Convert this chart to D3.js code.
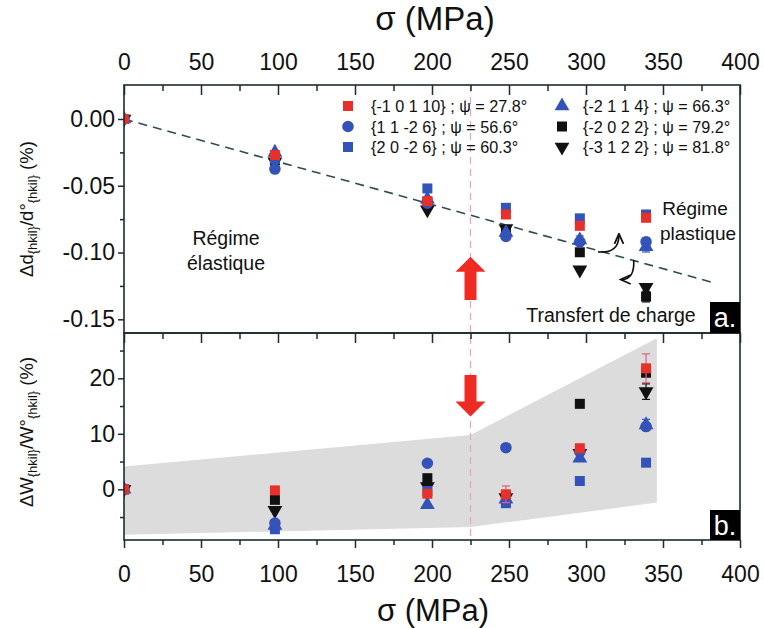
<!DOCTYPE html>
<html><head><meta charset="utf-8">
<script src="https://cdn.jsdelivr.net/npm/d3@7"></script>
<style>
body{margin:0;background:#fff}
svg{display:block}
text{font-family:"Liberation Sans",Arial,sans-serif;fill:#111}
</style>
</head><body>
<svg id="c" width="764" height="628"></svg>
<script>
// ---------- data ----------
const sigma = [0, 98, 197, 248, 296, 339];
const xTicks = [0, 50, 100, 150, 200, 250, 300, 350, 400];
const topTicks = [0, -0.05, -0.10, -0.15];
const botTicks = [0, 10, 20];

const seriesLabels = ["{-1 0 1 10} ; \u03C8 = 27.8\u00B0", "{1 1 -2 6} ; \u03C8 = 56.6\u00B0", "{2 0 -2 6} ; \u03C8 = 60.3\u00B0",
                      "{-2 1 1 4} ; \u03C8 = 66.3\u00B0", "{-2 0 2 2} ; \u03C8 = 79.2\u00B0", "{-3 1 2 2} ; \u03C8 = 81.8\u00B0"];

// Δd/d° (%)
const strainRed     = [0, -0.027, -0.0615, -0.0715, -0.0800, -0.0740];
const strainCircle  = [0, -0.0375, -0.063, -0.0880, -0.0920, -0.0920];
const strainBlueSq  = [0, -0.030, -0.0520, -0.0665, -0.0744, -0.0715];
const strainBlueTri = [0, -0.025, -0.060, -0.0850, -0.0906, -0.0956];
const strainBlackSq = [0, -0.031, -0.062, -0.0840, -0.0998, -0.1330];
const strainBlackTri= [0, -0.032, -0.068, -0.0820, -0.1130, -0.1260];
const strainErr = { blackSq: [0,0,0,0,0,0.004], blueTri: [0,0,0,0,0.003,0.004], circle: [0,0,0,0,0,0.003] };

// ΔW/W° (%)
const widthRed     = [0, -0.2, -0.8, -0.9, 7.4, 21.8];
const widthCircle  = [0, -6.1, 4.7, 7.5, 6.8, 11.3];
const widthBlueSq  = [0, -7.2, -0.3, -2.5, 1.5, 4.8];
const widthBlueTri = [0, -6.5, -2.8, -1.8, 5.6, 11.6];
const widthBlackSq = [0, -1.9, 2.0, -1.2, 15.4, 21.0];
const widthBlackTri= [0, -3.8, 0.5, -1.5, 6.5, 17.6];
const widthErr = { red: [0,0,0,1.5,0,2.6], blackTri: [0,0,0,0,0,1.4], blueTri: [0,0,0,0,0,1.0] };

// elastic fit line
const fitSigma = [0, 381];
const fitStrain = [0, -0.122];
// plastic threshold
const threshold = 225;
// grey band (bottom)
const bandSigma = [0, 225, 346];
const bandUpper = [4.1, 9.8, 27.2];
const bandLower = [-8.2, -6.8, -2.4];

// ---------- setup ----------
const RED = "#e8302a", BLUE = "#3453b8", BLACK = "#111111";
const svg = d3.select("#c");
const X0 = 124, X1 = 740;
const T0 = 85, T1 = 333, B0 = 333, B1 = 540;

const x = d3.scaleLinear().domain([0, 400]).range([X0, X1]);
const yT = d3.scaleLinear().domain([-0.15, 0]).range([319.3, 119]);
const yB = d3.scaleLinear().domain([0, 20]).range([489.3, 378.3]);

const styles = [
  {key:"red", color:RED, sym:"square"},
  {key:"circle", color:BLUE, sym:"circle"},
  {key:"blueSq", color:BLUE, sym:"square"},
  {key:"blueTri", color:BLUE, sym:"tri"},
  {key:"blackSq", color:BLACK, sym:"square"},
  {key:"blackTri", color:BLACK, sym:"down"}
];
const topVals = {red:strainRed, circle:strainCircle, blueSq:strainBlueSq, blueTri:strainBlueTri, blackSq:strainBlackSq, blackTri:strainBlackTri};
const botVals = {red:widthRed, circle:widthCircle, blueSq:widthBlueSq, blueTri:widthBlueTri, blackSq:widthBlackSq, blackTri:widthBlackTri};

function symPath(s){
  if (s==="square") return d3.symbol(d3.symbolSquare, 100)();
  if (s==="circle") return d3.symbol(d3.symbolCircle, 105)();
  return d3.symbol(d3.symbolTriangle, 95)();
}
function marker(g, s, color, px, py){
  g.append("path").attr("d", symPath(s))
   .attr("transform", `translate(${px},${py})` + (s==="down" ? " rotate(180)" : ""))
   .attr("fill", color);
}

const defs = svg.append("defs");
defs.append("clipPath").attr("id","ct").append("rect").attr("x",X0).attr("y",T0).attr("width",X1-X0).attr("height",T1-T0);
defs.append("clipPath").attr("id","cb").append("rect").attr("x",X0).attr("y",B0).attr("width",X1-X0).attr("height",B1-B0);

// ---------- bottom band ----------
const bandData = bandSigma.map((s,i)=>({s, u:bandUpper[i], l:bandLower[i]}));
svg.append("path").datum(bandData)
  .attr("clip-path","url(#cb)")
  .attr("d", d3.area().x(d=>x(d.s)).y0(d=>yB(d.l)).y1(d=>yB(d.u)))
  .attr("fill","#dcdcdc");

// threshold line
svg.append("line").attr("x1",x(threshold)).attr("x2",x(threshold)).attr("y1",T0).attr("y2",B1)
  .attr("stroke","#e9a3bf").attr("stroke-width",1.2).attr("stroke-dasharray","7,5");

// fit line
svg.append("line").attr("x1",x(fitSigma[0])).attr("y1",yT(fitStrain[0])).attr("x2",x(fitSigma[1])).attr("y2",yT(fitStrain[1]))
  .attr("stroke","#2d4d55").attr("stroke-width",1.6).attr("stroke-dasharray","9,6");

// ---------- red arrows ----------
function blockArrow(cx, yTail, yTip, yHead){
  const hw = 15, sw = 6;
  return `M${cx-sw},${yTail} L${cx-sw},${yHead} L${cx-hw},${yHead} L${cx},${yTip} L${cx+hw},${yHead} L${cx+sw},${yHead} L${cx+sw},${yTail} Z`;
}
svg.append("path").attr("d", blockArrow(x(threshold), yT(-0.1355), yT(-0.1031), yT(-0.1143))).attr("fill", "#ee2b22");
svg.append("path").attr("d", blockArrow(x(threshold), yB(20.6), yB(13.1), yB(15.8))).attr("fill", "#ee2b22");

// ---------- markers ----------
const drawOrder = ["blackTri","blackSq","blueTri","circle","blueSq","red"];
function drawPanel(vals, errs, y, clip){
  const g = svg.append("g").attr("clip-path", `url(#${clip})`);
  drawOrder.forEach(k=>{
    const st = styles.find(s=>s.key===k);
    const e = errs[k];
    if (e) sigma.forEach((s,i)=>{
      if (e[i]>0){
        const col = k==="red" ? "#e0607a" : st.color;
        g.append("line").attr("x1",x(s)).attr("x2",x(s)).attr("y1",y(vals[k][i]-e[i])).attr("y2",y(vals[k][i]+e[i])).attr("stroke",col).attr("stroke-width",1.2);
        [-1,1].forEach(sg=>g.append("line").attr("x1",x(s)-4).attr("x2",x(s)+4).attr("y1",y(vals[k][i]+sg*e[i])).attr("y2",y(vals[k][i]+sg*e[i])).attr("stroke",col).attr("stroke-width",1.2));
      }
    });
    sigma.forEach((s,i)=> marker(g, st.sym, st.color, x(s), y(vals[k][i])));
  });
}
drawPanel(topVals, strainErr, yT, "ct");
drawPanel(botVals, widthErr, yB, "cb");

// ---------- curved arrows ----------
svg.append("defs").append("marker").attr("id","ah").attr("viewBox","0 0 10 10").attr("refX",8).attr("refY",5)
  .attr("markerWidth",7).attr("markerHeight",7).attr("orient","auto")
  .append("path").attr("d","M0,1 L9,5 L0,9").attr("fill","none").attr("stroke","#111").attr("stroke-width",1.6);
{
  const ax0 = x(307.8), ay0 = yT(-0.0995), ax1 = x(321.4), ay1 = yT(-0.0868);
  svg.append("path").attr("d", `M${ax0},${ay0} Q${ax1},${ay0+2} ${ax1},${ay1}`).attr("fill","none").attr("stroke","#111").attr("stroke-width",1.6).attr("marker-end","url(#ah)");
  const bx0 = x(331), by0 = yT(-0.1056), bx1 = x(323.2), by1 = yT(-0.1202);
  svg.append("path").attr("d", `M${bx0},${by0} Q${bx0+1},${by1} ${bx1},${by1}`).attr("fill","none").attr("stroke","#111").attr("stroke-width",1.6).attr("marker-end","url(#ah)");
}

// ---------- frames & axes ----------
const frameCol = "#1d2b2f";
svg.append("rect").attr("x",X0).attr("y",T0).attr("width",X1-X0).attr("height",T1-T0).attr("fill","none").attr("stroke",frameCol).attr("stroke-width",1.6);
svg.append("rect").attr("x",X0).attr("y",B0).attr("width",X1-X0).attr("height",B1-B0).attr("fill","none").attr("stroke",frameCol).attr("stroke-width",1.6);

function styleAxis(g, fs){
  g.select(".domain").remove();
  g.selectAll(".tick line").attr("stroke",frameCol).attr("stroke-width",1.5);
  g.selectAll("text").attr("font-size",fs).attr("fill","#111").style("font-family","'Liberation Sans',Arial,sans-serif");
}
const hyph = f => d => f(d).replace("\u2212","-");
const minorX = d3.range(25, 400, 50);
const TF = 23;
let g = svg.append("g").attr("transform",`translate(0,${T0})`).call(d3.axisTop(x).tickValues(xTicks).tickSizeInner(-10).tickSizeOuter(0).tickPadding(15).tickFormat(d3.format("d")));
styleAxis(g, TF);
g = svg.append("g").attr("transform",`translate(0,${T0})`).call(d3.axisTop(x).tickValues(minorX).tickSizeInner(-6).tickSizeOuter(0).tickFormat(""));
styleAxis(g, 0);
g = svg.append("g").attr("transform",`translate(0,${B0})`).call(d3.axisTop(x).tickValues(xTicks).tickSizeInner(-10).tickSizeOuter(0).tickFormat(""));
styleAxis(g, 0);
g = svg.append("g").attr("transform",`translate(0,${B0})`).call(d3.axisTop(x).tickValues(minorX).tickSizeInner(-6).tickSizeOuter(0).tickFormat(""));
styleAxis(g, 0);
g = svg.append("g").attr("transform",`translate(0,${B1})`).call(d3.axisBottom(x).tickValues(xTicks).tickSizeInner(8).tickSizeOuter(0).tickPadding(18).tickFormat(d3.format("d")));
styleAxis(g, TF);
g = svg.append("g").attr("transform",`translate(0,${B1})`).call(d3.axisBottom(x).tickValues(minorX).tickSizeInner(5).tickSizeOuter(0).tickFormat(""));
styleAxis(g, 0);
g = svg.append("g").attr("transform",`translate(${X0},0)`).call(d3.axisLeft(yT).tickValues(topTicks).tickSizeInner(6).tickSizeOuter(0).tickPadding(3).tickFormat(hyph(d3.format(".2f"))));
styleAxis(g, TF);
g = svg.append("g").attr("transform",`translate(${X0},0)`).call(d3.axisLeft(yT).tickValues([-0.025,-0.075,-0.125]).tickSizeInner(4).tickSizeOuter(0).tickFormat(""));
styleAxis(g, 0);
g = svg.append("g").attr("transform",`translate(${X0},0)`).call(d3.axisLeft(yB).tickValues(botTicks).tickSizeInner(6).tickSizeOuter(0).tickPadding(3).tickFormat(d3.format("d")));
styleAxis(g, TF);
g = svg.append("g").attr("transform",`translate(${X0},0)`).call(d3.axisLeft(yB).tickValues([-5,5,15,25]).tickSizeInner(4).tickSizeOuter(0).tickFormat(""));
styleAxis(g, 0);

// axis titles
svg.append("text").attr("x",435).attr("y",30).attr("text-anchor","middle").attr("font-size",33).text("\u03C3 (MPa)");
svg.append("text").attr("x",433).attr("y",621).attr("text-anchor","middle").attr("font-size",31).text("\u03C3 (MPa)");

function yTitle(cx, cy, main1, main2){
  const t = svg.append("text").attr("transform",`translate(${cx},${cy}) rotate(-90)`).attr("text-anchor","middle").attr("font-size",18.5);
  t.append("tspan").text("\u0394"+main1);
  t.append("tspan").attr("font-size",13).attr("dy",4).text("{hkil}");
  t.append("tspan").attr("dy",-4).text("/"+main2+"\u00B0");
  t.append("tspan").attr("font-size",13).attr("dy",4).text("{hkil}");
  t.append("tspan").attr("dy",-4).text(" (%)");
}
yTitle(33, 209, "d", "d");
yTitle(33, 432, "W", "W");

// ---------- legend ----------
const legCols = [{mx:348, tx:371}, {mx:562, tx:583}];
const legRows = [106, 126.5, 147];
styles.forEach((st,i)=>{
  const c = legCols[Math.floor(i/3)], ry = legRows[i%3];
  marker(svg, st.sym, st.color, c.mx, ry);
  svg.append("text").attr("x",c.tx).attr("y",ry+6).attr("font-size",16.2).text(seriesLabels[i]);
});

// ---------- annotations ----------
svg.append("text").attr("x",226).attr("y",245).attr("text-anchor","middle").attr("font-size",19.5).text("R\u00E9gime");
svg.append("text").attr("x",226).attr("y",270).attr("text-anchor","middle").attr("font-size",19.5).text("\u00E9lastique");
svg.append("text").attr("x",695).attr("y",215).attr("text-anchor","middle").attr("font-size",19).text("R\u00E9gime");
svg.append("text").attr("x",698).attr("y",240).attr("text-anchor","middle").attr("font-size",19).text("plastique");
svg.append("text").attr("x",611).attr("y",322).attr("text-anchor","middle").attr("font-size",19.5).text("Transfert de charge");

// panel tags
svg.append("rect").attr("x",710).attr("y",302).attr("width",30).attr("height",31).attr("fill","#000");
svg.append("text").attr("x",725).attr("y",327).attr("text-anchor","middle").attr("font-size",27).style("fill","#fff").text("a.");
svg.append("rect").attr("x",710).attr("y",510).attr("width",30).attr("height",30).attr("fill","#000");
svg.append("text").attr("x",725).attr("y",535).attr("text-anchor","middle").attr("font-size",27).style("fill","#fff").text("b.");
</script>
</body></html>
